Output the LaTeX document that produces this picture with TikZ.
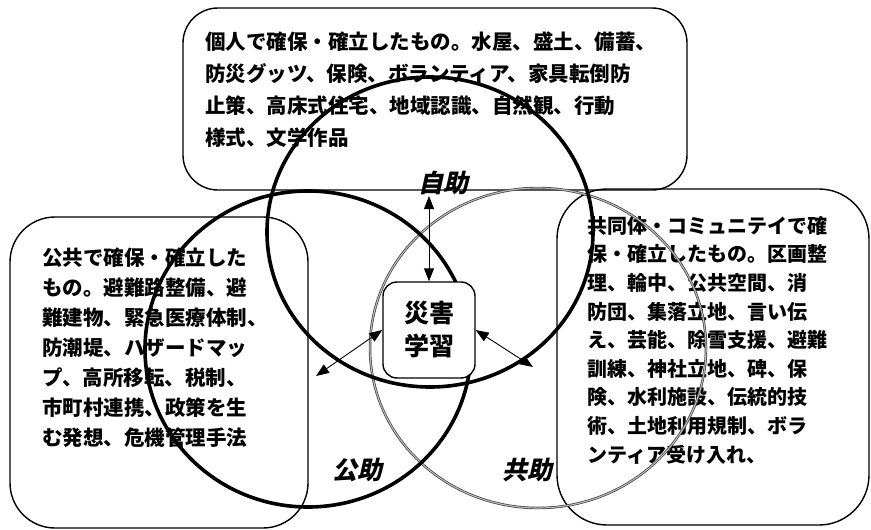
\documentclass[tikz,border=0pt]{standalone}
\usepackage{fontspec}
\newfontfamily\jp{Noto Sans CJK JP}
\newfontfamily\jpsl{Noto Sans CJK JP}[FakeSlant=0.22]
\usetikzlibrary{arrows.meta,shapes.geometric}
\begin{document}
\begin{tikzpicture}[x=1pt,y=-1pt,
  box/.style={draw, line width=1.4pt, rounded corners=#1, inner sep=0pt},
  txt/.style={anchor=north west, inner sep=0pt, align=left},
  ring/.style={draw, ellipse, inner sep=0pt, line width=3.6pt},
  thinring/.style={draw=black!75, ellipse, inner sep=0pt, line width=0.7pt, double=gray!55, double distance=1.1pt},
  lbl/.style={font=\jpsl\bfseries\fontsize{25}{25}\selectfont, inner sep=0pt},
  arr/.style={{Triangle[length=13pt,width=10pt]}-{Triangle[length=13pt,width=10pt]}, line width=0.9pt}]
\useasboundingbox (0,0) rectangle (871,530);

% boxes
\node[box=35pt, minimum width=504pt, minimum height=182pt] (topbox) at (435,99) {};
\node[box=45pt, minimum width=298pt, minimum height=311pt] (leftbox) at (159,372.5) {};
\node[box=50pt, minimum width=312pt, minimum height=336pt] (rightbox) at (713,357) {};

% texts
\node[txt, font=\jp\bfseries\fontsize{20.5}{32}\selectfont] (toptext) at (205,32) {個人で確保・確立したもの。水屋、盛土、備蓄、\\防災グッツ、保険、ボランティア、家具転倒防\\止策、高床式住宅、地域認識、自然観、行動\\様式、文学作品};
\node[txt, font=\jp\bfseries\fontsize{20.5}{30}\selectfont] (lefttext) at (42,248) {公共で確保・確立した\\もの。避難路整備、避\\難建物、緊急医療体制、\\防潮堤、ハザードマッ\\プ、高所移転、税制、\\市町村連携、政策を生\\む発想、危機管理手法};
\node[txt, font=\jp\bfseries\fontsize{20}{28.6}\selectfont] (righttext) at (587,216) {共同体・コミュニテイで確\\保・確立したもの。区画整\\理、輪中、公共空間、消\\防団、集落立地、言い伝\\え、芸能、除雪支援、避難\\訓練、神社立地、碑、保\\険、水利施設、伝統的技\\術、土地利用規制、ボラ\\ンティア受け入れ、};

% circles
\node[thinring, minimum width=336pt, minimum height=320pt] (kyojo) at (538,348) {};
\node[ring, minimum width=326pt, minimum height=310pt] (jijo) at (430,232) {};
\node[ring, minimum width=326pt, minimum height=316pt] (kojo) at (308,349) {};

% labels
\node[lbl] (ljijo) at (443,183) {自助};
\node[lbl] (lkojo) at (357,470) {公助};
\node[lbl] (lkyojo) at (527,470) {共助};

% centre
\node[draw, fill=white, line width=1.4pt, rounded corners=14pt, minimum width=92pt, minimum height=96pt, inner sep=0pt, align=center, font=\jp\bfseries\fontsize{25}{33}\selectfont] (learn) at (429,330) {災害\\学習};

% arrows
\coordinate (tjijo) at (429,196);
\coordinate (tkojo) at (316,376);
\coordinate (tkyojo) at (533,367);
\draw[arr] (learn.north) -- (tjijo);
\draw[arr] (learn.west) -- (tkojo);
\draw[arr] (learn.east) -- (tkyojo);
\end{tikzpicture}
\end{document}
